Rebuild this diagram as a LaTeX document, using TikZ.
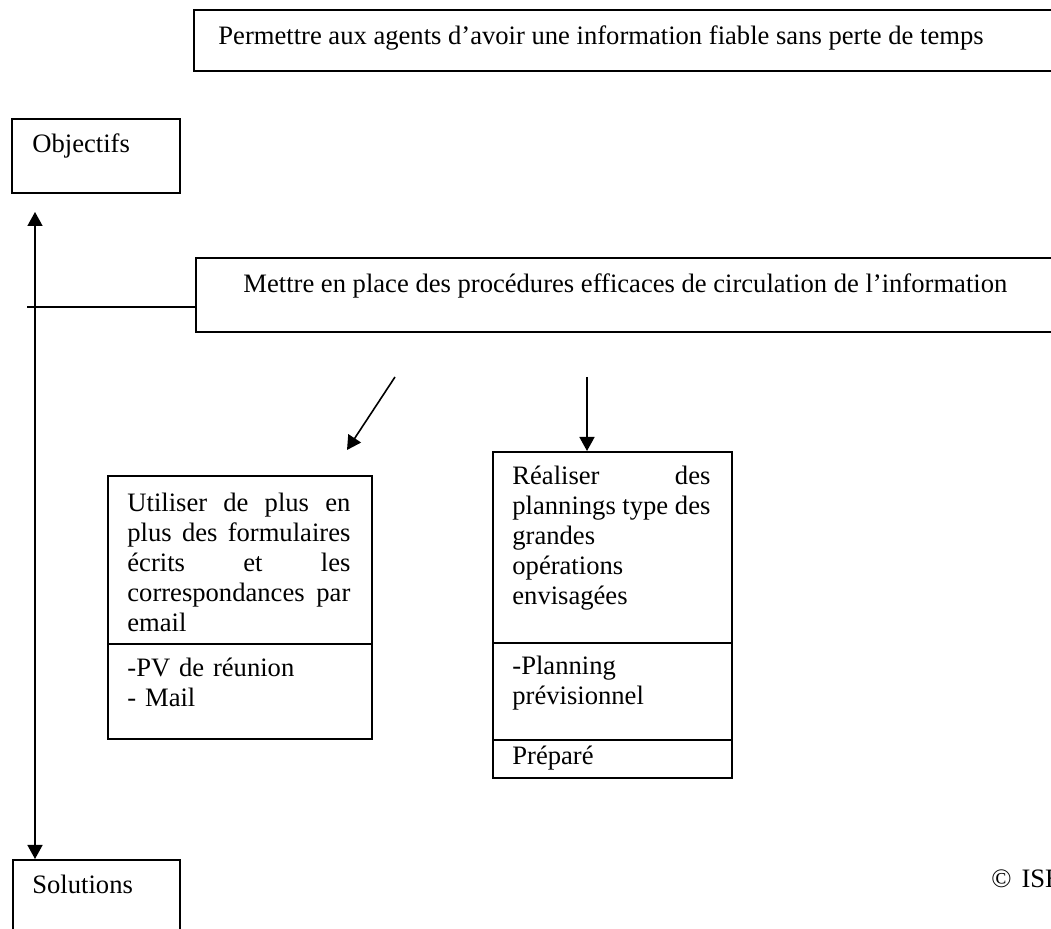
\documentclass[tikz,border=0pt]{standalone}
\usepackage{fontspec}
\setmainfont{Liberation Serif}
\usepackage{xcolor}
\usepackage{tikz}
\usetikzlibrary{positioning,arrows.meta,calc}
\definecolor{ink}{RGB}{0,0,0}
\newcommand\bodyfont{\fontsize{13.3}{15}\selectfont}
\newcommand\jline[2]{\makebox[#1][s]{\spaceskip=0pt\relax #2}}
\tikzset{
  cell/.style={draw=ink, line width=1pt, anchor=north west, inner sep=0pt},
  txt/.style={anchor=base west, inner sep=0pt, font=\bodyfont, text=ink, align=left},
  link/.style={-{Triangle[length=7pt,width=7.5pt]}, line width=0.8pt, draw=ink},
  both/.style={{Triangle[length=7pt,width=7.5pt]}-{Triangle[length=7pt,width=7.5pt]},
    line width=0.8pt, draw=ink},
  tick/.style={line width=0.8pt, draw=ink},
}
\begin{document}
\begin{tikzpicture}[x=0.5pt, y=-0.5pt]
  \useasboundingbox (0,0) rectangle (1051,929);
  % objectif global et procedures
  \node[cell, minimum width=433.5pt, minimum height=30.5pt] (permettre) at (193,9) {};
  \node[txt] (permettretxt) at (218,45)
       {Permettre aux agents d’avoir une information fiable sans perte de temps};
  \node[cell, minimum width=84pt, minimum height=37pt] (objectifs) at (11,118) {};
  \node[txt] (objtxt) at (32,153) {Objectifs};
  \node[cell, minimum width=432.5pt, minimum height=37pt] (mettre) at (195,257) {};
  \node[txt] (mettretxt) at (243,293)
       {Mettre en place des procédures efficaces de circulation de l’information};
  % solution 1
  \node[cell, minimum width=132pt, minimum height=84pt] (util) at (107,475) {};
  \node[txt, text width=111.5pt] (utiltxt) at (127,512)
       {\jline{111.5pt}{Utiliser de plus en}\\\jline{111.5pt}{plus des formulaires}\\
        \jline{111.5pt}{écrits et les}\\\jline{111.5pt}{correspondances par}\\email};
  \node[cell, minimum width=132pt, minimum height=47.5pt] (utilpv) at (107,643) {};
  \node[txt, text width=111.5pt] (utilpvtxt) at (127,677) {-PV de réunion\\- Mail};
  % solution 2
  \node[cell, minimum width=119.5pt, minimum height=95.5pt] (realiser) at (492,451) {};
  \node[txt, text width=99pt] (realisertxt) at (512,485)
       {\jline{99pt}{Réaliser des}\\\jline{99pt}{plannings type des}\\grandes\\opérations\\envisagées};
  \node[cell, minimum width=119.5pt, minimum height=48.5pt] (realpv) at (492,642) {};
  \node[txt, text width=99pt] (realpvtxt) at (512,675) {-Planning\\prévisionnel};
  \node[cell, minimum width=119.5pt, minimum height=19pt] (prepare) at (492,739) {};
  \node[txt] (preparetxt) at (512,765) {Préparé};
  % axe
  \node[cell, minimum width=83.5pt, minimum height=50.5pt] (solutions) at (12,859) {};
  \node[txt] (soltxt) at (32,894) {Solutions};
  \node[txt] (copy) at (991,888) {©\hspace{5pt}ISE};
  \coordinate (axtop) at (35,212);
  \coordinate (tickl) at (27,307);
  \coordinate (diagfrom) at (395,377);
  \coordinate (diagto) at (347,450);
  \coordinate (vertfrom) at (587,377);
  \draw[both] (axtop) -- (axtop |- solutions.north);
  \draw[tick] (tickl) -- (tickl -| mettre.west);
  \draw[link] (diagfrom) -- (diagto);
  \draw[link] (vertfrom) -- (vertfrom |- realiser.north);
\end{tikzpicture}
\end{document}
